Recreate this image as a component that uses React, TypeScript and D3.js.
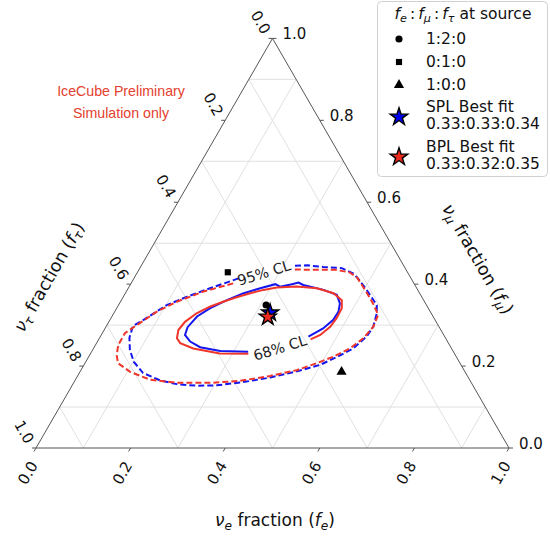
import React from 'react';
import * as d3 from 'd3';

const W = 550;
const H = 536;

// points are [f_e, f_mu]; f_tau = 1 - f_e - f_mu
const gridLevels = [0.1, 0.3, 0.5, 0.7, 0.9];
const tickValues = [0, 0.2, 0.4, 0.6, 0.8, 1.0];

const spl68 = [
  [0.331, 0.235], [0.271, 0.237], [0.224, 0.246], [0.196, 0.26], [0.177, 0.276], [0.173, 0.295],
  [0.18, 0.321], [0.197, 0.341], [0.223, 0.361], [0.25, 0.378], [0.279, 0.39], [0.306, 0.4],
  [0.319, 0.394], [0.341, 0.4], [0.353, 0.404], [0.366, 0.398], [0.415, 0.386], [0.449, 0.374],
  [0.466, 0.353], [0.473, 0.333], [0.472, 0.313], [0.461, 0.292], [0.44, 0.272],
];
const bpl68 = [
  [0.334, 0.23], [0.273, 0.231], [0.211, 0.243], [0.177, 0.256], [0.164, 0.268], [0.157, 0.288],
  [0.161, 0.308], [0.175, 0.329], [0.195, 0.345], [0.217, 0.357], [0.24, 0.368], [0.264, 0.378],
  [0.288, 0.386], [0.313, 0.392], [0.354, 0.394], [0.399, 0.39], [0.44, 0.378], [0.466, 0.361],
  [0.476, 0.341], [0.477, 0.317], [0.474, 0.296], [0.463, 0.276], [0.448, 0.265],
];
const spl95 = [
  [0.221, 0.414], [0.173, 0.39], [0.134, 0.369], [0.102, 0.349], [0.071, 0.313], [0.056, 0.298],
  [0.063, 0.269], [0.079, 0.239], [0.102, 0.21], [0.135, 0.183], [0.18, 0.165], [0.219, 0.156],
  [0.264, 0.152], [0.306, 0.153], [0.358, 0.161], [0.409, 0.172], [0.458, 0.187], [0.499, 0.203],
  [0.525, 0.222], [0.549, 0.243], [0.563, 0.272], [0.565, 0.296], [0.556, 0.329], [0.546, 0.349],
  [0.506, 0.386], [0.481, 0.408], [0.46, 0.425], [0.427, 0.439], [0.386, 0.442], [0.35, 0.446],
  [0.322, 0.445],
];
const bpl95 = [
  [0.216, 0.402], [0.163, 0.382], [0.119, 0.357], [0.089, 0.333], [0.067, 0.305], [0.048, 0.281],
  [0.048, 0.252], [0.057, 0.227], [0.07, 0.207], [0.106, 0.186], [0.157, 0.167], [0.218, 0.159],
  [0.288, 0.159], [0.35, 0.164], [0.407, 0.176], [0.456, 0.19], [0.49, 0.207], [0.517, 0.223],
  [0.542, 0.243], [0.558, 0.268], [0.565, 0.296], [0.561, 0.325], [0.536, 0.353], [0.511, 0.378],
  [0.49, 0.398], [0.471, 0.416], [0.448, 0.429], [0.415, 0.435], [0.366, 0.435], [0.326, 0.436],
];

const sourceLabels = ['1:2:0', '0:1:0', '1:0:0'];
const sourcePoints = [[0.312, 0.349], [0.191, 0.429], [0.553, 0.186]];
const fitNames = ['SPL Best fit', 'BPL Best fit'];
const fitRatios = ['0.33:0.33:0.34', '0.33:0.32:0.35'];
const fitPoints = [[0.33, 0.33], [0.33, 0.32]];
const fitColors = ['#0000ee', '#ee2a1e'];

const BLUE = '#1515f0';
const RED = '#f0352a';
const FONT = 'DejaVu Sans, sans-serif';

const xs = d3.scaleLinear().domain([0, 1]).range([36, 509]);
const ys = d3.scaleLinear().domain([0, 1]).range([448, 38.4]);
const proj = (p: number[]): [number, number] => [xs(p[0] + p[1] / 2), ys(p[1])];
const line = d3.line<number[]>().x(d => proj(d)[0]).y(d => proj(d)[1]);

const star = d3.symbol().type(d3.symbolStar);
const circle = d3.symbol().type(d3.symbolCircle);
const square = d3.symbol().type(d3.symbolSquare);
const triangle = d3.symbol().type(d3.symbolTriangle);
const shapes = [circle.size(40)(), square.size(38)(), triangle.size(45)()];

const Sub = ({ t, it = true }: { t: string; it?: boolean }) => (
  <tspan fontSize="72%" dy={4} fontStyle={it ? 'italic' : 'normal'}>{t}</tspan>
);

const App = () => {
  const corners = [[0, 0], [1, 0], [0, 1]].map(proj);
  const gridSegs: number[][][] = [];
  gridLevels.forEach(v => {
    gridSegs.push([[0, v], [1 - v, v]]); // const f_mu
    gridSegs.push([[v, 0], [v, 1 - v]]); // const f_e
    gridSegs.push([[1 - v, 0], [0, 1 - v]]); // const f_tau
  });

  return (
    <svg width={W} height={H} style={{ position: 'absolute', left: 0, top: 0, background: '#fff' }}
      fontFamily={FONT}>
      <g>
        {gridSegs.map((s, i) => {
          const a = proj(s[0]), b = proj(s[1]);
          return <line key={i} x1={a[0]} y1={a[1]} x2={b[0]} y2={b[1]} stroke="#dcdcdc" strokeWidth={0.9} />;
        })}
        <polygon points={corners.map(c => c.join(',')).join(' ')} fill="none" stroke="#555" strokeWidth={1} />
      </g>

      {/* ticks */}
      {tickValues.map(v => {
        const b = proj([v, 0]);
        const l = proj([0, 1 - v]);
        const r = proj([1 - v, v]);
        return (
          <g key={v} fontSize={15} fill="#111">
            <line x1={b[0]} y1={b[1]} x2={b[0] - 2} y2={b[1] + 3.5} stroke="#555" />
            <text transform={`translate(${b[0] - 8},${b[1] + 25}) rotate(-60)`} textAnchor="middle" dominantBaseline="central">{v.toFixed(1)}</text>
            <line x1={l[0]} y1={l[1]} x2={l[0] - 4} y2={l[1]} stroke="#555" />
            <text transform={`translate(${l[0] - 12},${l[1] - 16}) rotate(60)`} textAnchor="middle" dominantBaseline="central">{v.toFixed(1)}</text>
            <line x1={r[0]} y1={r[1]} x2={r[0] + 4} y2={r[1]} stroke="#555" />
            <text x={r[0] + 10} y={r[1] - 4} dominantBaseline="central">{v.toFixed(1)}</text>
          </g>
        );
      })}

      {/* axis titles */}
      <text x={275} y={526} textAnchor="middle" fontSize={17} fill="#111">
        <tspan fontStyle="italic">ν</tspan><Sub t="e" /><tspan dy={-4}>{'  fraction ('}</tspan>
        <tspan fontStyle="italic">f</tspan><Sub t="e" /><tspan dy={-4}>)</tspan>
      </text>
      <text transform="translate(49,277) rotate(-60)" textAnchor="middle" dominantBaseline="central" fontSize={17.5} fill="#111">
        <tspan fontStyle="italic">ν</tspan><Sub t="τ" /><tspan dy={-4}>{'  fraction ('}</tspan>
        <tspan fontStyle="italic">f</tspan><Sub t="τ" /><tspan dy={-4}>)</tspan>
      </text>
      <text transform="translate(478,259) rotate(60)" textAnchor="middle" dominantBaseline="central" fontSize={17.5} fill="#111">
        <tspan fontStyle="italic">ν</tspan><Sub t="μ" /><tspan dy={-4}>{'  fraction ('}</tspan>
        <tspan fontStyle="italic">f</tspan><Sub t="μ" /><tspan dy={-4}>)</tspan>
      </text>

      <text x={121} y={91} textAnchor="middle" dominantBaseline="central" fontFamily="Liberation Sans, Arial, sans-serif" fontSize={14.2} fill="#e4402e">IceCube Preliminary</text>
      <text x={121} y={113} textAnchor="middle" dominantBaseline="central" fontFamily="Liberation Sans, Arial, sans-serif" fontSize={14.2} fill="#e4402e">Simulation only</text>

      {/* contours */}
      <path d={line(spl95) ?? ''} fill="none" stroke={BLUE} strokeWidth={2} strokeDasharray="6,3" />
      <path d={line(bpl95) ?? ''} fill="none" stroke={RED} strokeWidth={2} strokeDasharray="6,3" />
      <path d={line(spl68) ?? ''} fill="none" stroke={BLUE} strokeWidth={2} />
      <path d={line(bpl68) ?? ''} fill="none" stroke={RED} strokeWidth={2} />
      <text transform="translate(264,273) rotate(-17)" textAnchor="middle" dominantBaseline="central" fontSize={14.5} fill="#222">95% CL</text>
      <text transform="translate(280,348) rotate(-17)" textAnchor="middle" dominantBaseline="central" fontSize={14.5} fill="#222">68% CL</text>

      {/* markers */}
      {sourcePoints.map((p, i) => {
        const c = proj(p);
        return <path key={i} d={shapes[i] ?? ''} transform={`translate(${c[0]},${c[1]})`} fill="#000" />;
      })}
      {fitPoints.map((p, i) => {
        const c = proj(p);
        return <path key={i} d={star.size(90)() ?? ''} transform={`translate(${c[0]},${c[1]})`} fill={fitColors[i]} stroke="#000" strokeWidth={1.4} />;
      })}

      {/* legend */}
      <g>
        <rect x={377.5} y={1.5} width={170} height={175} rx={4} fill="#fff" fillOpacity={0.85} stroke="#d0d0d0" />
        <text x={463} y={14} textAnchor="middle" dominantBaseline="central" fontSize={15.5} fill="#111">
          <tspan fontStyle="italic">f</tspan><Sub t="e" /><tspan dy={-4}>{'\u2009:\u2009'}</tspan>
          <tspan fontStyle="italic">f</tspan><Sub t="μ" /><tspan dy={-4}>{'\u2009:\u2009'}</tspan>
          <tspan fontStyle="italic">f</tspan><Sub t="τ" /><tspan dy={-4}>{' at source'}</tspan>
        </text>
        {sourceLabels.map((s, i) => (
          <g key={s} transform={`translate(0,${39 + i * 23})`}>
            <path d={shapes[i] ?? ''} transform="translate(399,0)" fill="#000" />
            <text x={426} y={0} dominantBaseline="central" fontSize={15.5} fill="#111">{s}</text>
          </g>
        ))}
        {fitNames.map((s, i) => (
          <g key={s} transform={`translate(0,${117 + i * 40})`}>
            <path d={star.size(95)() ?? ''} transform="translate(399,0)" fill={fitColors[i]} stroke="#000" strokeWidth={1.4} />
            <text x={426} y={-10} dominantBaseline="central" fontSize={15.5} fill="#111">{s}</text>
            <text x={426} y={7} dominantBaseline="central" fontSize={15.5} fill="#111">{fitRatios[i]}</text>
          </g>
        ))}
      </g>
    </svg>
  );
};

export default App;
